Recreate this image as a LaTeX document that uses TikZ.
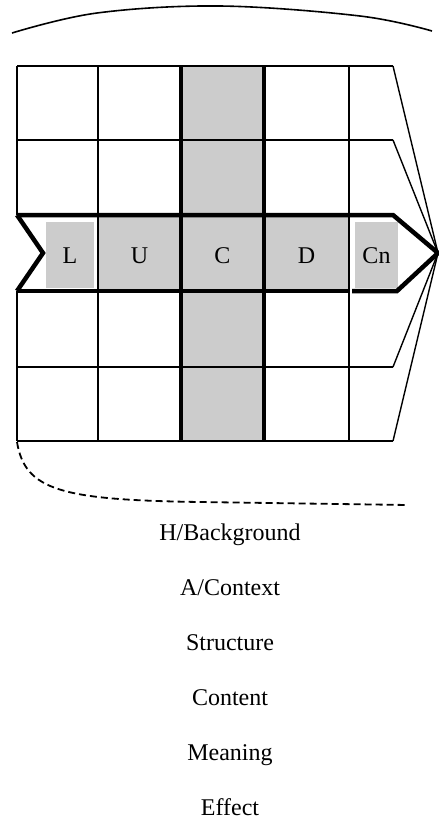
\documentclass[tikz,border=0pt]{standalone}
\usepackage{fontspec}
\setmainfont{Liberation Serif}
\usetikzlibrary{positioning}

\begin{document}
\begin{tikzpicture}
	[x=1pt, y=-1pt, line join=miter]

\useasboundingbox (0, 0) rectangle (439, 820);

\def\Left{17}
\def\RowEnd{393}
\def\Gap{35.5pt}

% Styles
\tikzstyle{thin rule} =
	[line width=1.8pt]

\tikzstyle{thick rule} =
	[line width=4.5pt]

\tikzstyle{fan} =
	[line width=1.4pt]

\tikzstyle{cell} =
	[fill=gray!40, inner sep=0, text height=19pt, text depth=0pt, font=\fontsize{24}{28}\selectfont]

\tikzstyle{caption} =
	[inner sep=0, text height=17pt, text depth=2pt, font=\fontsize{24}{28}\selectfont]

% Cells
\node (CCell) at (222.5, 253.5) [cell, minimum width=83, minimum height=375] {C};
\node (UCell) at (139.5, 254) [cell, minimum width=83, minimum height=76] {U};
\node (DCell) at (306.5, 254) [cell, minimum width=85, minimum height=76] {D};
\node (LCell) at (70, 255) [cell, text height=17pt, minimum width=48, minimum height=66] {L};
\node (CnCell) at (376.5, 255) [cell, text height=17pt, minimum width=43, minimum height=66] {Cn};

\coordinate (FanTip) at (438, 253);

% Grid
\draw[thin rule]
	(\Left, 66) -- (\RowEnd, 66)
	(\Left, 140) -- (\RowEnd, 140)
	(\Left, 367) -- (\RowEnd, 367)
	(\Left, 441) -- (\RowEnd, 441);
\draw[thin rule]
	(\Left, 66) -- (\Left, 215)
	(\Left, 291) -- (\Left, 441)
	(98, 66) -- (98, 441)
	(349, 66) -- (349, 441);

\foreach \y in {66, 140, 367, 441}
	\draw[fan] (\RowEnd, \y) -- (FanTip);

\draw[thick rule] (CCell.north west) -- (CCell.south west);
\draw[thick rule] (CCell.north east) -- (CCell.south east);

% Middle row
\draw[thick rule] (\Left, 215) -- (43, 253) -- (\Left, 291);
\draw[thick rule] (\Left, 215) -- (\RowEnd, 215) -- (FanTip) -- (397, 291) -- (352, 291);
\draw[thick rule] (\Left, 291) -- (349, 291);

% Curves
\draw[line width=1.6pt]
	plot[smooth, tension=0.6] coordinates {(12, 33) (97, 13) (220, 6) (360, 16) (432, 31)};
\draw[line width=1.8pt, dash pattern=on 7pt off 4pt]
	(\Left, 442) .. controls (25, 490) and (60, 500) .. (200, 502) -- (408, 505);

% Captions
\node (Background) at (230, 533) [caption] {H/Background};
\node (Context) [caption, below=\Gap of Background] {A/Context};
\node (Structure) [caption, below=\Gap of Context] {Structure};
\node (Content) [caption, below=\Gap of Structure] {Content};
\node (Meaning) [caption, below=\Gap of Content] {Meaning};
\node (Effect) [caption, below=\Gap of Meaning] {Effect};

\end{tikzpicture}
\end{document}
